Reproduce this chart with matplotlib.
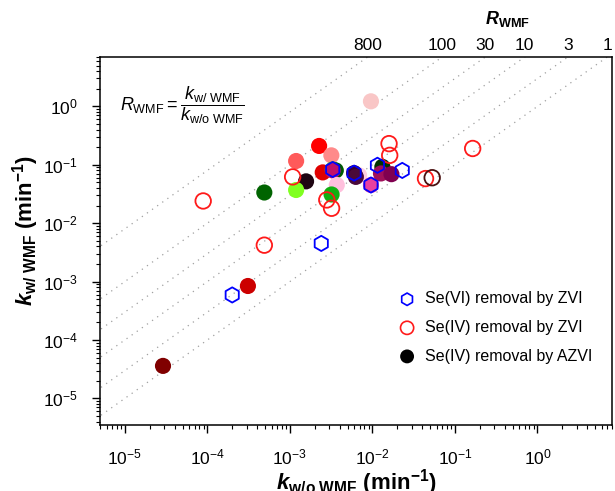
import numpy as np
import matplotlib
matplotlib.use('Agg')
import matplotlib.pyplot as plt
from matplotlib.ticker import LogLocator, NullLocator, FixedLocator, FixedFormatter

plt.rcParams['font.family'] = ['Liberation Sans', 'DejaVu Sans']
plt.rcParams['mathtext.fontset'] = 'custom'
plt.rcParams['mathtext.rm'] = 'Liberation Sans'
plt.rcParams['mathtext.it'] = 'Liberation Sans:italic'
plt.rcParams['mathtext.bf'] = 'Liberation Sans:bold'
plt.rcParams['mathtext.bfit'] = 'Liberation Sans:italic:bold'
plt.rcParams['axes.unicode_minus'] = False

# ---- data (min^-1) ----
# Se(VI) removal by ZVI  (open blue hexagons)
se6_x = [3.3e-3, 6.0e-3, 9.6e-3, 1.15e-2, 2.3e-2, 2.4e-3, 2.0e-4]
se6_y = [8.3e-2, 7.2e-2, 4.5e-2, 9.8e-2, 8.0e-2, 4.5e-3, 5.9e-4]

# Se(IV) removal by ZVI  (open circles)
se4_x = [1.08e-3, 2.8e-3, 3.2e-3, 1.59e-2, 1.62e-2, 4.4e-2, 4.9e-4, 0.164, 8.9e-5, 5.3e-2]
se4_y = [6.2e-2, 2.5e-2, 1.8e-2, 0.23, 0.145, 5.8e-2, 4.2e-3, 0.19, 2.4e-2, 6.0e-2]
se4_c = ['#FF1A1A'] * 9 + ['#4A1010']

# Se(IV) removal by AZVI  (filled circles, one colour per material)
azvi_x = [9.6e-3, 2.26e-3, 3.18e-3, 1.19e-3, 1.57e-3, 4.9e-4, 1.19e-3, 2.5e-3,
          3.3e-3, 3.6e-3, 3.3e-3, 3.7e-3, 3.2e-3, 6.9e-3, 6.0e-3, 6.3e-3,
          9.6e-3, 1.32e-2, 1.27e-2, 1.7e-2, 3.1e-4, 2.9e-5]
azvi_y = [1.22, 0.21, 0.145, 0.116, 5.2e-2, 3.35e-2, 3.7e-2, 7.4e-2,
          8.3e-2, 8.0e-2, 8.0e-2, 4.5e-2, 3.1e-2, 6.6e-2, 7.2e-2, 6.2e-2,
          4.5e-2, 9.2e-2, 7.1e-2, 6.9e-2, 8.4e-4, 3.6e-5]
azvi_c = ['#F9C6C6', '#FF0000', '#FF8A8A', '#FF5A5A', '#1E0512', '#006400', '#80FF20', '#E00000',
          '#22AA22', '#005A00', '#C0106A', '#FFC0DD', '#10B010', '#FFD0E0', '#3A0030', '#4A0A3A',
          '#E8409F', '#003300', '#A0105A', '#800050', '#CC0000', '#800000']

R_lines = [800, 100, 30, 10, 3, 1]
R_labels = ['800', '100', '30', '10', '3', '1']

xlim = (5e-6, 8)
ylim = (3.5e-6, 7)

fig = plt.figure(figsize=(6.15, 4.91), dpi=100)
ax = fig.add_axes([0.1626, 0.1344, 0.8325, 0.7495])
ax.set_xscale('log')
ax.set_yscale('log')

# iso-R lines
xx = np.logspace(-7, 2, 200)
for R in R_lines:
    ax.plot(xx, R * xx, ls=(0, (1, 4)), color='#A0A0A0', lw=0.9, zorder=1)

ax.scatter(azvi_x, azvi_y, s=135, c=azvi_c, edgecolors='none', zorder=3)
ax.scatter(se4_x, se4_y, s=125, facecolors='none', edgecolors=se4_c, linewidths=1.3, zorder=4)
ax.scatter(se6_x, se6_y, s=120, marker='h', facecolors='none', edgecolors='#0000FF', linewidths=1.3, zorder=5)

ax.set_xlim(*xlim)
ax.set_ylim(*ylim)

ax.xaxis.set_major_locator(LogLocator(base=10, numticks=20))
ax.yaxis.set_major_locator(LogLocator(base=10, numticks=20))
ax.xaxis.set_minor_locator(LogLocator(base=10, subs=np.arange(2, 10), numticks=20))
ax.yaxis.set_minor_locator(LogLocator(base=10, subs=np.arange(2, 10), numticks=20))
ax.tick_params(which='major', direction='out', length=6, width=1, labelsize=12.5, pad=10)
ax.tick_params(which='minor', direction='out', length=3, width=0.8)
for sp in ax.spines.values():
    sp.set_linewidth(1.1)

ax.set_xlabel(r'$\mathbfit{k}_{\mathbf{w/o\ WMF}}$ (min$^{\mathbf{-1}}$)', fontsize=16,
              fontweight='bold', labelpad=0)
ax.set_ylabel(r'$\mathbfit{k}_{\mathbf{w/\ WMF}}$ (min$^{\mathbf{-1}}$)', fontsize=16,
              fontweight='bold')
ax.yaxis.set_label_coords(-0.115, 0.53)

# top axis with R_WMF values where iso-lines meet the top frame
sec = ax.secondary_xaxis('top')
sec.xaxis.set_major_locator(FixedLocator([ylim[1] / R for R in R_lines]))
sec.xaxis.set_major_formatter(FixedFormatter(R_labels))
sec.xaxis.set_minor_locator(NullLocator())
sec.tick_params(length=0, labelsize=12.5, pad=3)
sec.spines['top'].set_visible(False)
fig.text(0.825, 0.962, r'$\mathbfit{R}_{\mathbf{WMF}}$', fontsize=13, ha='center', va='center')

ax.text(0.04, 0.87, r'$R_{\mathrm{WMF}} = \dfrac{k_{\mathrm{w/\ WMF}}}{k_{\mathrm{w/o\ WMF}}}$',
        transform=ax.transAxes, fontsize=13, ha='left', va='center')

h1 = ax.scatter([], [], s=80, marker='h', facecolors='none', edgecolors='#0000FF', linewidths=1.2)
h2 = ax.scatter([], [], s=90, facecolors='none', edgecolors='#FF1A1A', linewidths=1.2)
h3 = ax.scatter([], [], s=100, c='black', edgecolors='none')
ax.legend([h1, h2, h3], ['Se(VI) removal by ZVI', 'Se(IV) removal by ZVI', 'Se(IV) removal by AZVI'],
          loc='upper left', bbox_to_anchor=(0.553, 0.402), frameon=False, fontsize=11.5,
          handletextpad=0.5, labelspacing=0.85, handlelength=1.2)

fig.savefig('out.png', dpi=100)
